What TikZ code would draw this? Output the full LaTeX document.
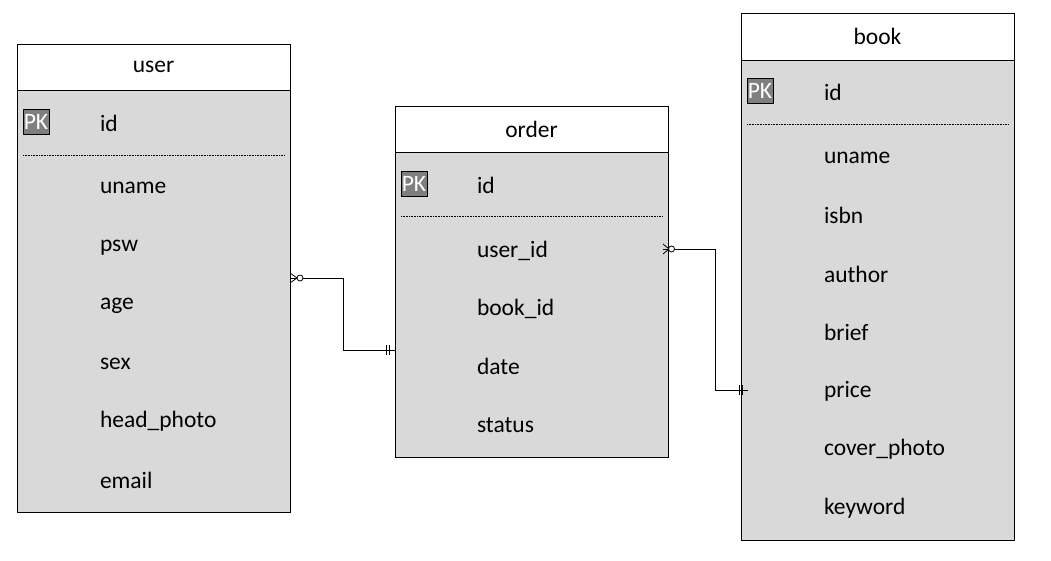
\documentclass[tikz,border=0pt]{standalone}
\usepackage{fontspec}
\setmainfont{Carlito}
\begin{document}
\begin{tikzpicture}[x=1pt,y=-1pt,
  every node/.style={font=\fontsize{23.5}{27}\selectfont, inner sep=0pt, outer sep=0pt},
  hdr/.style={draw=black, line width=0.9pt, fill=white, minimum width=273pt, minimum height=46pt, anchor=north west},
  bodybox/.style={draw=black, line width=0.9pt, fill=bodygray, minimum width=273pt, anchor=north west},
  pk/.style={draw=black, line width=0.6pt, fill=pkgray, text=white, minimum width=26pt, minimum height=25pt},
  field/.style={anchor=west, yshift=-1.5pt},
  sep/.style={line width=0.5pt, dash pattern=on 0.8pt off 0.8pt},
  conn/.style={line width=1pt}]
\definecolor{bodygray}{HTML}{D9D9D9}
\definecolor{pkgray}{HTML}{7F7F7F}
\useasboundingbox (0,0) rectangle (1051,561);
% user
\node[bodybox, minimum height=422pt] (userB) at (17,90) {};
\node[hdr] (userH) at (17,44) {user};
\node[pk] (userPK) at (36,122) {PK};
\node[field] (uid) at (100,122) {id};
\draw[sep] (23,155) -- (284,155);
\node[field] (uname) at (100,186) {uname};
\node[field] (upsw) at (100,246) {psw};
\node[field] (uage) at (100,304) {age};
\node[field] (usex) at (100,362) {sex};
\node[field] (uhead) at (100,420) {head\_photo};
\node[field] (uemail) at (100,479) {email};
% order
\node[bodybox, minimum height=305pt] (orderB) at (395,152) {};
\node[hdr] (orderH) at (395,106) {order};
\node[pk] (orderPK) at (414,184) {PK};
\node[field] (oid) at (477,184) {id};
\draw[sep] (401,216) -- (662,216);
\node[field] (ouser) at (477,249) {user\_id};
\node[field] (obook) at (477,307) {book\_id};
\node[field] (odate) at (477,365) {date};
\node[field] (ostatus) at (477,424) {status};
% book
\node[bodybox, minimum height=480pt] (bookB) at (741,60) {};
\node[hdr, minimum height=47pt] (bookH) at (741,13) {book};
\node[pk] (bookPK) at (760,91) {PK};
\node[field] (bid) at (824,91) {id};
\draw[sep] (747,124) -- (1008,124);
\node[field] (buname) at (824,156) {uname};
\node[field] (bisbn) at (824,214) {isbn};
\node[field] (bauthor) at (824,273) {author};
\node[field] (bbrief) at (824,331) {brief};
\node[field] (bprice) at (824,390) {price};
\node[field] (bcover) at (824,448) {cover\_photo};
\node[field] (bkey) at (824,507) {keyword};
% connector user - order
\coordinate (uoA) at (290,278);
\coordinate (uoB) at (395,350);
\draw[conn] (uoA) ++(13,0) -- ++(40,0) |- (uoB);
\draw[line width=0.8pt] (uoA) ++(0,-5) -- ++(7,5) -- ++(-7,5);
\draw[line width=0.8pt] (uoA) -- ++(7,0);
\draw[line width=0.8pt, fill=white] (uoA) ++(10,0) circle (3pt);
\draw[line width=0.8pt] (uoB) ++(-9,-5) -- ++(0,10);
\draw[line width=0.8pt] (uoB) ++(-6,-5) -- ++(0,10);
% connector order - book
\coordinate (obA) at (663,249);
\coordinate (obB) at (748,390);
\draw[conn] (obA) ++(11,0) -- (715,249) |- (obB);
\draw[line width=0.8pt] (obA) ++(0,-5) -- ++(6,5) -- ++(-6,5);
\draw[line width=0.8pt] (obA) -- ++(6,0);
\draw[line width=0.8pt, fill=white] (obA) ++(8.5,0) circle (3pt);
\draw[line width=0.8pt] (obB) ++(-9,-5) -- ++(0,10);
\draw[line width=0.8pt] (obB) ++(-6,-5) -- ++(0,10);
\end{tikzpicture}
\end{document}
